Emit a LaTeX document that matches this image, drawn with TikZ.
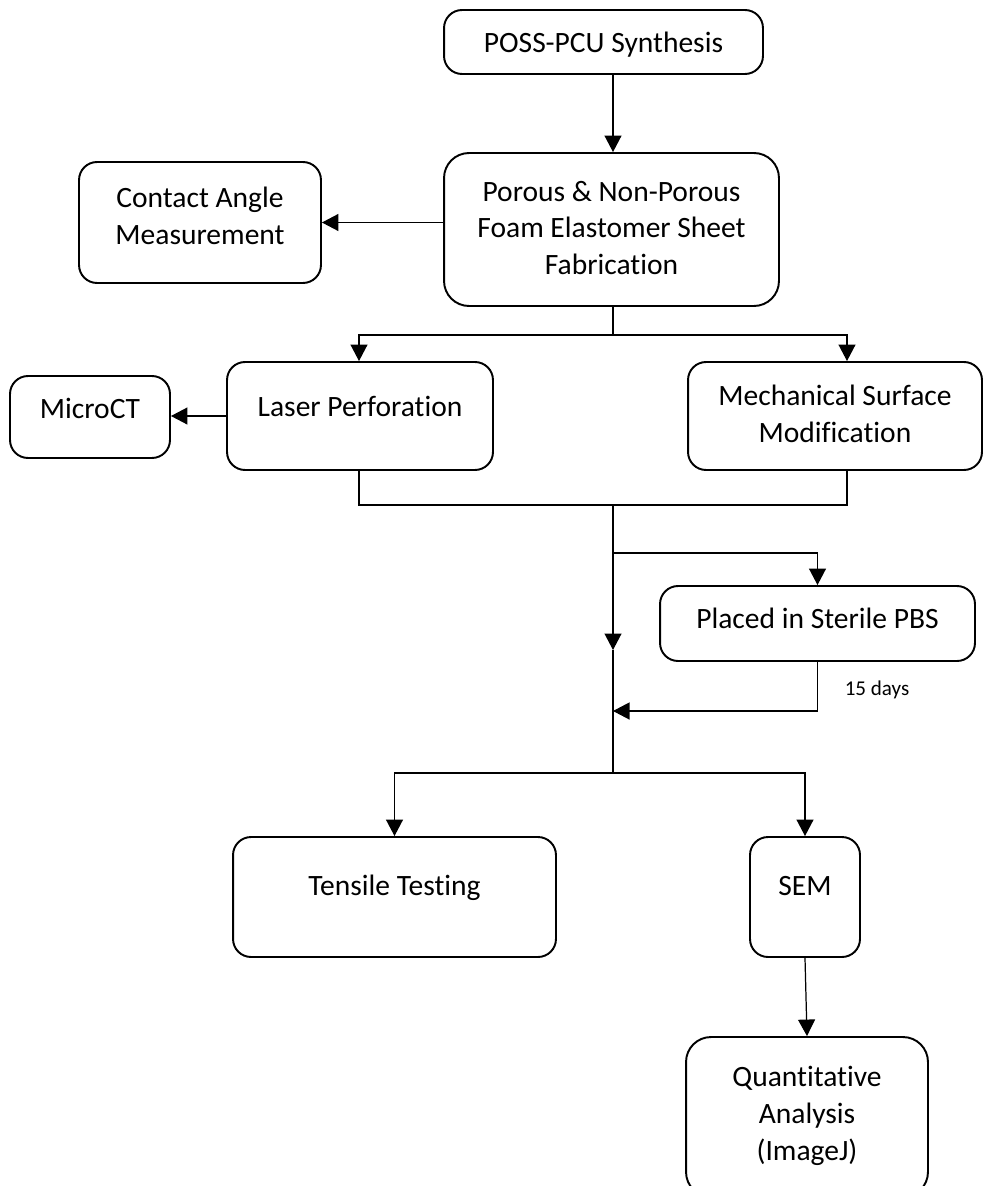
\documentclass[tikz,border=0pt]{standalone}
\usepackage{fontspec}
\setmainfont[RawFeature={-liga}]{Carlito}
\usetikzlibrary{arrows.meta}
\begin{document}
\begin{tikzpicture}[x=0.02cm,y=-0.02cm,
  box/.style={draw=black,line width=1.1pt,rounded corners=0.36cm,inner sep=0pt},
  lbl/.style={align=center,inner sep=0pt,font=\fontsize{16.8}{21}\selectfont},
  small/.style={inner sep=0pt,font=\fontsize{12}{14}\selectfont},
  con/.style={draw=black,line width=0.7pt},
  arr/.style={con,-{Triangle[length=0.33cm,width=0.34cm]}}]
\useasboundingbox (0,0) rectangle (995,1186);
% boxes
\node[box,minimum width=6.38cm,minimum height=1.28cm] (poss) at (603.5,42) {};
\node[lbl,anchor=base] (possT) at (603.5,53) {POSS-PCU Synthesis};
\node[box,minimum width=6.70cm,minimum height=3.06cm,rounded corners=0.5cm] (porous) at (611.5,229.5) {};
\node[lbl] (porousT) at (611.5,228) {Porous \& Non-Porous\\Foam Elastomer Sheet\\Fabrication};
\node[box,minimum width=4.84cm,minimum height=2.42cm] (contact) at (200,222.5) {};
\node[lbl] (contactT) at (200,216) {Contact Angle\\Measurement};
\node[box,minimum width=3.20cm,minimum height=1.64cm] (micro) at (90,417) {};
\node[lbl,anchor=base] (microT) at (90,418) {MicroCT};
\node[box,minimum width=5.32cm,minimum height=2.16cm] (laser) at (360,416) {};
\node[lbl,anchor=base] (laserT) at (360,416) {Laser Perforation};
\node[box,minimum width=5.88cm,minimum height=2.16cm] (mech) at (835,416) {};
\node[lbl] (mechT) at (835,414) {Mechanical Surface\\Modification};
\node[box,minimum width=6.30cm,minimum height=1.50cm] (pbs) at (817.5,623.5) {};
\node[lbl,anchor=base] (pbsT) at (817.5,628) {Placed in Sterile PBS};
\node[box,minimum width=6.46cm,minimum height=2.40cm] (tensile) at (394.5,897) {};
\node[lbl,anchor=base] (tensileT) at (394.5,895) {Tensile Testing};
\node[box,minimum width=2.20cm,minimum height=2.40cm] (sem) at (805,897) {};
\node[lbl,anchor=base] (semT) at (805,895) {SEM};
\node[box,minimum width=4.84cm,minimum height=3.20cm,rounded corners=0.5cm] (quant) at (807,1117) {};
\node[lbl] (quantT) at (807,1116) {Quantitative\\Analysis\\(ImageJ)};
\node[small,anchor=base] (days) at (877,695) {15 days};
% junctions
\coordinate (j1) at (613,335);
\coordinate (j2) at (613,505);
\coordinate (j3) at (613,553);
\coordinate (m) at (613,650);
\coordinate (r) at (613,711);
\coordinate (j4) at (613,773);
% connectors
\draw[arr] (613,0 |- poss.south) -- (613,0 |- porous.north);
\draw[arr] (porous.west |- contact.east) -- (contact.east);
\draw[con] (613,0 |- porous.south) -- (j1);
\draw[arr] (j1) -| (359,0 |- laser.north);
\draw[arr] (j1) -| (847,0 |- mech.north);
\draw[arr] (laser.west) -- (micro.east |- laser.west);
\draw[con] (359,0 |- laser.south) |- (j2);
\draw[con] (847,0 |- mech.south) |- (j2);
\draw[arr] (j2) -- (m);
\draw[con] (m) -- (j4);
\draw[arr] (j3) -| (pbs.north);
\draw[arr] (pbs.south) |- (r);
\draw[arr] (j4) -| (tensile.north);
\draw[arr] (j4) -| (sem.north);
\draw[arr] (sem.south) -- (quant.north);
\end{tikzpicture}
\end{document}
